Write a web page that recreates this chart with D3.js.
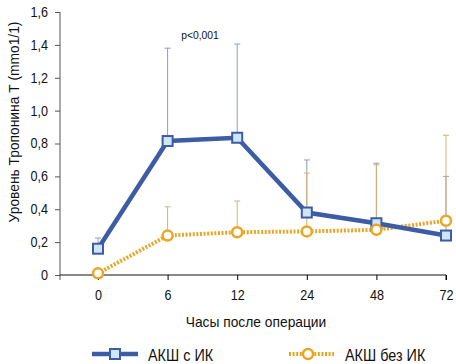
<!DOCTYPE html>
<html>
<head>
<meta charset="utf-8">
<script src="https://cdn.jsdelivr.net/npm/d3@7"></script>
<style>
  body { margin: 0; background: #fff; }
  svg text { font-family: "Liberation Sans", Arial, sans-serif; fill: #111; }
</style>
</head>
<body>
<div id="chart"></div>
<script>
// hours after surgery
const hours = ["0", "6", "12", "24", "48", "72"];
const withCPB = [0.16, 0.815, 0.835, 0.38, 0.315, 0.24];
const withCPBErr = [0.225, 1.38, 1.405, 0.70, 0.68, 0.60];
const noCPB = [0.01, 0.24, 0.26, 0.265, 0.275, 0.33];
const noCPBErr = [null, 0.415, 0.45, 0.62, 0.67, 0.85];
const yTicks = [0, 0.2, 0.4, 0.6, 0.8, 1.0, 1.2, 1.4, 1.6];

const width = 456, height = 364;
const blue = "#3c5da6", orange = "#e9a623";
const sx = 0.9; // narrow the font a bit, the original uses a condensed face

const svg = d3.select("#chart").append("svg")
    .attr("width", width)
    .attr("height", height);

const x = d3.scalePoint().domain(hours).range([98, 446]);
const y = d3.scaleLinear().domain([0, 1.6]).range([275, 12]);

const fmt = d => d === 0 ? "0" : d3.format(".1f")(d).replace(".", ",");

// Y axis
const yAxis = svg.append("g")
    .attr("transform", "translate(60,0)")
    .call(d3.axisLeft(y).tickValues(yTicks).tickFormat(fmt).tickSize(5).tickPadding(6));
yAxis.select(".domain").attr("d", `M0,${y(1.6)}V280`).attr("stroke", "#555");
yAxis.selectAll(".tick line").attr("stroke", "#555");
yAxis.selectAll("text").style("font-size", "14px")
    .attr("x", -12 / sx).attr("transform", `scale(${sx},1)`);

// X axis
const xAxis = svg.append("g")
    .attr("transform", `translate(0,${y(0)})`)
    .call(d3.axisBottom(x).tickSize(5).tickPadding(10));
xAxis.select(".domain").attr("d", "M60,0H446V5").attr("stroke", "#111");
xAxis.selectAll("text").style("font-size", "14px").attr("transform", `scale(${sx},1)`);

// error bars
function errBars(vals, errs, color, cls) {
    const d = hours.map((h, i) => ({h, v: vals[i], e: errs[i]})).filter(d => d.e != null);
    svg.selectAll("." + cls + "-l").data(d).enter().append("line")
        .attr("x1", d => x(d.h)).attr("x2", d => x(d.h))
        .attr("y1", d => y(d.v)).attr("y2", d => y(d.e))
        .attr("stroke", color).attr("stroke-width", 1);
    svg.selectAll("." + cls + "-c").data(d).enter().append("line")
        .attr("x1", d => x(d.h) - 3).attr("x2", d => x(d.h) + 3)
        .attr("y1", d => y(d.e)).attr("y2", d => y(d.e))
        .attr("stroke", color).attr("stroke-width", 1);
}
errBars(withCPB, withCPBErr, "#8a9cc8", "eb");
errBars(noCPB, noCPBErr, "#d9b071", "eo");

const line = d3.line().x((d, i) => x(hours[i])).y(d => y(d));

svg.append("path").datum(noCPB)
    .attr("d", line).attr("fill", "none")
    .attr("stroke", orange).attr("stroke-width", 4).attr("stroke-dasharray", "2,1.6");

svg.append("path").datum(withCPB)
    .attr("d", line).attr("fill", "none")
    .attr("stroke", blue).attr("stroke-width", 4.5);

svg.selectAll(".sq").data(withCPB).enter().append("rect")
    .attr("x", (d, i) => x(hours[i]) - 5).attr("y", d => y(d) - 5)
    .attr("width", 10).attr("height", 10)
    .attr("fill", "#cfe6f7").attr("stroke", blue).attr("stroke-width", 2);

svg.selectAll(".ci").data(noCPB).enter().append("circle")
    .attr("cx", (d, i) => x(hours[i])).attr("cy", d => y(d)).attr("r", 5)
    .attr("fill", "#fff").attr("stroke", orange).attr("stroke-width", 2.5);

// annotation
svg.append("text").attr("transform", `translate(200,39) scale(${sx},1)`).attr("text-anchor", "middle")
    .style("font-size", "11.5px").text("p<0,001");

// axis titles
svg.append("text").attr("transform", `translate(256,327) scale(0.92,1)`).attr("text-anchor", "middle")
    .style("font-size", "15px").text("Часы после операции");

svg.append("text").attr("transform", "translate(19,122) rotate(-90) scale(0.92,1)")
    .attr("text-anchor", "middle").style("font-size", "15px")
    .text("Уровень Тропонина Т (mmo1/1)");

// legend
const leg = svg.append("g").attr("transform", "translate(0,354)");
leg.append("line").attr("x1", 92).attr("x2", 138).attr("stroke", blue).attr("stroke-width", 4.5);
leg.append("rect").attr("x", 110).attr("y", -5).attr("width", 10).attr("height", 10)
    .attr("fill", "#cfe6f7").attr("stroke", blue).attr("stroke-width", 2);
leg.append("text").attr("transform", `translate(148,7) scale(${sx},1)`)
    .style("font-size", "16px").text("АКШ с ИК");

leg.append("line").attr("x1", 289).attr("x2", 334).attr("stroke", orange)
    .attr("stroke-width", 4).attr("stroke-dasharray", "2,1.6");
leg.append("circle").attr("cx", 308).attr("cy", 0).attr("r", 5)
    .attr("fill", "#fff").attr("stroke", orange).attr("stroke-width", 2.5);
leg.append("text").attr("transform", `translate(345,7) scale(${sx},1)`)
    .style("font-size", "16px").text("АКШ без ИК");
</script>
</body>
</html>
